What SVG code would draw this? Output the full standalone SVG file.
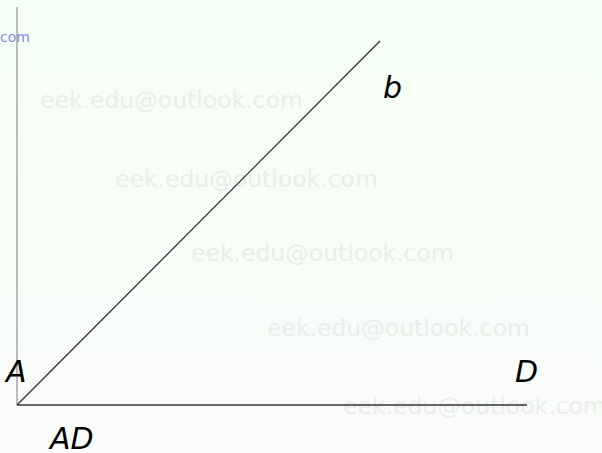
<svg xmlns="http://www.w3.org/2000/svg" width="602" height="453" viewBox="0 0 602 453">
<defs>
<linearGradient id="bg" x1="0" y1="0" x2="0" y2="1">
<stop offset="0" stop-color="#f5fff5"/>
<stop offset="1" stop-color="#fafcfa"/>
</linearGradient>
</defs>
<style>
.wm{font-family:"DejaVu Sans",sans-serif;font-size:23.5px;fill:#e8efe8}
.lbl{font-family:"DejaVu Sans",sans-serif;font-style:oblique;font-size:30px;fill:#000}
</style>
<rect width="602" height="453" fill="url(#bg)"/>
<g id="watermarks">
<text class="wm" x="40" y="108">eek.edu@outlook.com</text>
<text class="wm" x="115" y="187">eek.edu@outlook.com</text>
<text class="wm" x="191" y="261">eek.edu@outlook.com</text>
<text class="wm" x="267" y="336">eek.edu@outlook.com</text>
<text class="wm" x="343" y="414">eek.edu@outlook.com</text>
<text x="0" y="42" font-family="DejaVu Sans,sans-serif" font-size="14" fill="#8a8ae0">com</text>
</g>
<g id="connectors" stroke-linecap="butt">
<line x1="17" y1="7" x2="17" y2="405" stroke="#999" stroke-width="1.3"/>
<line x1="17" y1="405" x2="527" y2="405" stroke="#333" stroke-width="1.3"/>
<line x1="17" y1="405" x2="380" y2="41" stroke="#333" stroke-width="1.3"/>
</g>
<g id="A"><text class="lbl" x="6" y="382">A</text></g>
<g id="D"><text class="lbl" x="515" y="382">D</text></g>
<g id="b"><text class="lbl" x="383" y="98">b</text></g>
<g id="AD"><text class="lbl" x="50" y="449">AD</text></g>
</svg>
